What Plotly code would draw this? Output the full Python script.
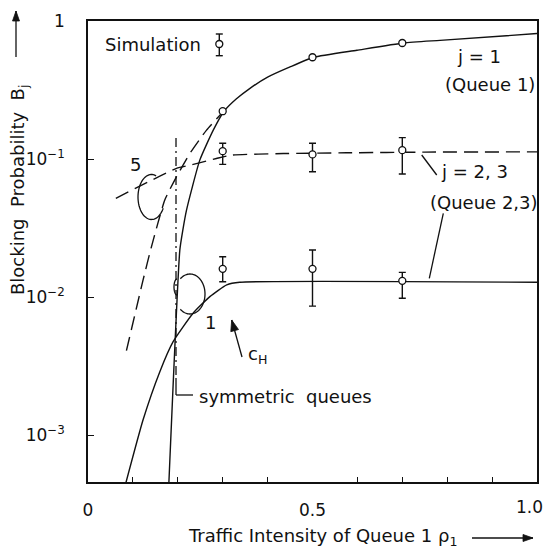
import numpy as np
import plotly.graph_objects as go

# ---------------- data ----------------
# Queue 1, c_H = 1 (solid)
rho_q1_c1 = [0.1800, 0.2045, 0.2112, 0.2194, 0.249, 0.279, 0.303, 0.33, 0.36, 0.40, 0.45, 0.503, 0.599, 0.703, 0.784, 1.0]
B_q1_c1   = [4.4e-4, 0.0219, 0.0306, 0.0427, 0.0982, 0.162, 0.222, 0.272, 0.324, 0.392, 0.465, 0.546, 0.614, 0.693, 0.724, 0.811]

# Queue 1, c_H = 5 (dashed)
rho_q1_c5 = [0.0856, 0.1227, 0.1414, 0.171, 0.197, 0.2268, 0.264, 0.301]
B_q1_c5   = [0.00409, 0.0133, 0.0232, 0.0505, 0.0743, 0.1096, 0.162, 0.220]

# Queue 2,3, c_H = 5 (dashed)
rho_q23_c5 = [0.062, 0.197, 0.227, 0.286, 0.32, 0.435, 0.576, 0.75, 1.0]
B_q23_c5   = [0.0519, 0.0855, 0.0902, 0.1009, 0.1067, 0.1096, 0.1109, 0.1122, 0.1127]

# Queue 2,3, c_H = 1 (solid)
rho_q23_c1 = [0.0835, 0.1227, 0.160, 0.1896, 0.234, 0.2714, 0.309, 0.338, 1.0]
B_q23_c1   = [4.4e-4, 1.29e-3, 2.88e-3, 4.75e-3, 7.64e-3, 0.01007, 0.01225, 0.0128, 0.0128]

# Simulation results
rho_sim = [0.3, 0.5, 0.7]
B_sim_q1 = [0.222, 0.546, 0.693]
B_sim_q23_c5 = [0.114, 0.108, 0.116]
B_sim_q23_c5_hi = [0.130, 0.130, 0.143]
B_sim_q23_c5_lo = [0.0914, 0.0808, 0.0778]
B_sim_q23_c1 = [0.0160, 0.0160, 0.0131]
B_sim_q23_c1_hi = [0.0196, 0.0219, 0.0151]
B_sim_q23_c1_lo = [0.0129, 0.0086, 0.0098]

rho_symmetric = 0.196

x_tickvals = [0, 0.5]
x_ticktext = ["0", "0.5"]
x_last_label = "1.0"
x_minor_tickvals = [0.1, 0.2, 0.3, 0.4, 0.6, 0.7, 0.8, 0.9]
y_tickvals = [1, 0.1, 0.01, 0.001]
y_ticktext = ["1", "10<sup>\u22121</sup>", "10<sup>\u22122</sup>", "10<sup>\u22123</sup>"]

# ---------------- layout helpers ----------------
W, H = 545, 551
ML, MR, MT, MB = 88, 8, 21, 69
PW = W - ML - MR
PH = H - MT - MB
INK = "#111111"
FONT = "DejaVu Sans"
FS = 18


def pxx(xp):
    return (xp - ML) / PW


def pxy(yp):
    return (H - MB - yp) / PH


fig = go.Figure()

line_solid = dict(color=INK, width=1.4, shape="spline", smoothing=0.5)
line_dash = dict(color=INK, width=1.4, dash="14px,7px", shape="spline", smoothing=0.5)

fig.add_trace(go.Scatter(x=rho_q1_c5, y=B_q1_c5, mode="lines", line=line_dash, showlegend=False))
fig.add_trace(go.Scatter(x=rho_q23_c5, y=B_q23_c5, mode="lines", line=line_dash, showlegend=False))
fig.add_trace(go.Scatter(x=rho_q1_c1, y=B_q1_c1, mode="lines", line=line_solid, showlegend=False))
fig.add_trace(go.Scatter(x=rho_q23_c1, y=B_q23_c1, mode="lines", line=line_solid, showlegend=False))

marker = dict(symbol="circle", size=7, color="white", line=dict(color=INK, width=1.3))


def err(center, hi, lo):
    plus = [h - c for h, c in zip(hi, center)]
    minus = [c - l for c, l in zip(center, lo)]
    return dict(type="data", symmetric=False, array=plus, arrayminus=minus,
                color=INK, thickness=1.4, width=3.5)


fig.add_trace(go.Scatter(x=rho_sim, y=B_sim_q1, mode="markers", marker=marker, showlegend=False))
fig.add_trace(go.Scatter(x=rho_sim, y=B_sim_q23_c5, mode="markers", marker=marker,
                         error_y=err(B_sim_q23_c5, B_sim_q23_c5_hi, B_sim_q23_c5_lo), showlegend=False))
fig.add_trace(go.Scatter(x=rho_sim, y=B_sim_q23_c1, mode="markers", marker=marker,
                         error_y=err(B_sim_q23_c1, B_sim_q23_c1_hi, B_sim_q23_c1_lo), showlegend=False))

shapes = []


def pline(x0, y0, x1, y1, dash=None, width=1.3):
    d = dict(type="line", xref="paper", yref="paper", x0=pxx(x0), y0=pxy(y0), x1=pxx(x1), y1=pxy(y1),
             line=dict(color=INK, width=width))
    if dash:
        d["line"]["dash"] = dash
    shapes.append(d)


def arc(cx, cy, rx, ry, a0, a1, width=1.3):
    t = np.radians(np.linspace(a0, a1, 60))
    xs = cx + rx * np.cos(t)
    ys = cy - ry * np.sin(t)
    path = "M " + " L ".join(f"{pxx(a):.5f},{pxy(b):.5f}" for a, b in zip(xs, ys))
    shapes.append(dict(type="path", xref="paper", yref="paper", path=path,
                       line=dict(color=INK, width=width)))


def arrow(x_head, y_head, x_tail, y_tail, head_len=10, head_w=3.5, width=1.3):
    pline(x_tail, y_tail, x_head, y_head, width=width)
    dx, dy = x_head - x_tail, y_head - y_tail
    n = (dx * dx + dy * dy) ** 0.5
    ux, uy = dx / n, dy / n
    bx, by = x_head - ux * head_len, y_head - uy * head_len
    p1 = (bx - uy * head_w, by + ux * head_w)
    p2 = (bx + uy * head_w, by - ux * head_w)
    path = (f"M {pxx(x_head):.5f},{pxy(y_head):.5f} L {pxx(p1[0]):.5f},{pxy(p1[1]):.5f} "
            f"L {pxx(p2[0]):.5f},{pxy(p2[1]):.5f} Z")
    shapes.append(dict(type="path", xref="paper", yref="paper", path=path,
                       fillcolor=INK, line=dict(color=INK, width=0.8)))


# symmetric-queues marker line
sym_px = ML + rho_symmetric * PW
pline(sym_px, 138, sym_px, 378, dash="9px,4px,2px,4px")
pline(sym_px, 378, sym_px, 395)
pline(sym_px, 395, 193, 395)

# leader lines
pline(421.7, 155, 436.7, 175)
pline(443.3, 213.3, 429.3, 278.3)

# parameter ellipses
arc(151.5, 197, 13.5, 22.5, 70, 330)
arc(190, 294, 15, 20, 130, -130)
arc(177, 287, 3, 8, 90, 270)

# arrows (axis directions and c_H)
arrow(533, 538, 472, 538)
arrow(16, 11, 16, 57)
arrow(231.7, 320, 242, 357, head_len=11, head_w=4)

# Simulation legend glyph
gx, gy0, gy1, gyc = 219.3, 34, 55.7, 44
pline(gx, gy0, gx, gy1, width=1.4)
pline(gx - 3.5, gy0, gx + 3.5, gy0, width=1.4)
pline(gx - 3.5, gy1, gx + 3.5, gy1, width=1.4)
shapes.append(dict(type="circle", xref="paper", yref="paper",
                   x0=pxx(gx - 3.5), x1=pxx(gx + 3.5), y0=pxy(gyc + 3.5), y1=pxy(gyc - 3.5),
                   fillcolor="white", line=dict(color=INK, width=1.3)))

annotations = []


def text(s, xp, yp, xanchor="left", size=FS, angle=0):
    annotations.append(dict(text=s, xref="paper", yref="paper", x=pxx(xp), y=pxy(yp),
                            xanchor=xanchor, yanchor="middle", showarrow=False, textangle=angle,
                            font=dict(family=FONT, size=size, color=INK)))


text("Simulation", 103, 44)
text("j = 1", 455, 57)
text("(Queue 1)", 443, 85)
text("j = 2, 3", 439, 172)
text("(Queue 2,3)", 428, 202)
text("5", 135, 164, xanchor="center")
text("1", 210, 322, xanchor="center")
text("c<sub>H</sub>", 246, 355)
text("symmetric  queues", 197, 396)
text("Traffic Intensity of Queue 1 \u03c1<sub>1</sub>", 186, 537)
text("Blocking  Probability  B<sub>j</sub>", 19, 190, xanchor="center", angle=-90)
text(x_last_label, 545, 507, xanchor="right", size=FS - 1)

fig.update_layout(
    width=W, height=H,
    margin=dict(l=ML, r=MR, t=MT, b=MB, pad=0, autoexpand=False),
    paper_bgcolor="white", plot_bgcolor="white",
    font=dict(family=FONT, size=FS, color=INK),
    shapes=shapes, annotations=annotations,
    showlegend=False,
)
fig.update_xaxes(range=[0, 1], tickvals=x_tickvals, ticktext=x_ticktext,
                 ticks="", ticklabeloverflow="allow", automargin=False,
                 minor=dict(tickvals=x_minor_tickvals, ticks="inside", ticklen=5,
                            tickwidth=1.3, tickcolor=INK, showgrid=False),
                 showline=True, mirror=True, linecolor=INK, linewidth=1.5,
                 showgrid=False, zeroline=False, ticklabelstandoff=12,
                 tickfont=dict(family=FONT, size=FS - 1, color=INK))
fig.update_yaxes(type="log", range=[-3.34, 0], tickvals=y_tickvals, ticktext=y_ticktext,
                 ticks="inside", ticklen=6, tickwidth=1.3, tickcolor=INK, automargin=False,
                 showline=True, mirror=True, linecolor=INK, linewidth=1.5,
                 showgrid=False, zeroline=False, ticklabelstandoff=18,
                 tickfont=dict(family=FONT, size=FS - 1, color=INK))

fig.write_html("out.html", config={"displayModeBar": False},
               post_script="document.body.style.margin='0px';document.body.style.overflow='hidden';")
